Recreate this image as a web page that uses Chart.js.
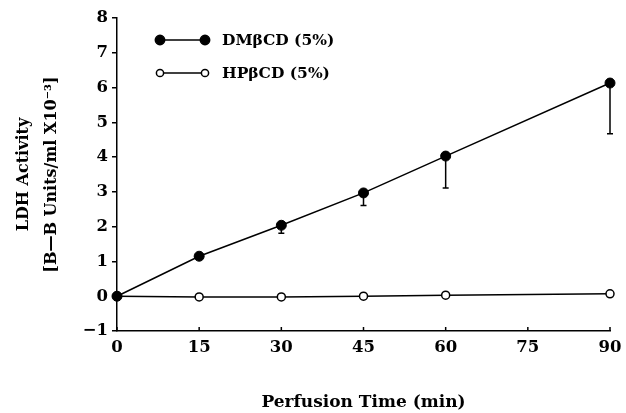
<!DOCTYPE html>
<html>
<head>
<meta charset="utf-8">
<script src="https://cdn.jsdelivr.net/npm/chart.js@4/dist/chart.umd.min.js"></script>
<style>
html,body{margin:0;padding:0;background:#fff;}
#wrap{width:626px;height:413px;position:relative;}
</style>
</head>
<body>
<div id="wrap"><canvas id="c" width="626" height="413"></canvas></div>
<script>
// ---- data ----
const times = [0, 15, 30, 45, 60, 90];
const dmValues = [0, 1.15, 2.04, 2.97, 4.03, 6.13];
const dmErrDown = [0, 0, 0.23, 0.36, 0.92, 1.46];
const hpValues = [0, -0.02, -0.02, 0.0, 0.03, 0.07];
const xTicks = [0, 15, 30, 45, 60, 75, 90];
const yTicks = [-1, 0, 1, 2, 3, 4, 5, 6, 7, 8];
const seriesLabels = ['DMβCD (5%)', 'HPβCD (5%)'];
const xTitle = 'Perfusion Time (min)';
const yTitle = ['LDH Activity', '[B\u2014B Units/ml X10\u207B\u00B3]'];

const FONT = '"DejaVu Serif", "Liberation Serif", serif';

const errorBars = {
  id: 'errorBars',
  afterDatasetsDraw(chart) {
    const ctx = chart.ctx, xs = chart.scales.x, ys = chart.scales.y;
    ctx.save();
    ctx.strokeStyle = '#000';
    ctx.lineWidth = 1.5;
    times.forEach((t, i) => {
      const e = dmErrDown[i];
      if (!e) return;
      const px = xs.getPixelForValue(t);
      const y1 = ys.getPixelForValue(dmValues[i]);
      const y2 = ys.getPixelForValue(dmValues[i] - e);
      ctx.beginPath();
      ctx.moveTo(px, y1); ctx.lineTo(px, y2);
      ctx.moveTo(px - 3, y2); ctx.lineTo(px + 3, y2);
      ctx.stroke();
    });
    ctx.restore();
  }
};

const innerXTicks = {
  id: 'innerXTicks',
  afterDraw(chart) {
    const ctx = chart.ctx, xs = chart.scales.x;
    const yb = chart.chartArea.bottom;
    ctx.save();
    ctx.strokeStyle = '#000';
    ctx.lineWidth = 1.5;
    xTicks.forEach(t => {
      const px = xs.getPixelForValue(t);
      ctx.beginPath();
      ctx.moveTo(px, yb); ctx.lineTo(px, yb - 4);
      ctx.stroke();
    });
    ctx.restore();
  }
};

const customLegend = {
  id: 'customLegend',
  afterDraw(chart) {
    const ctx = chart.ctx;
    const rows = [
      {y: 40, filled: true, label: chart.data.datasets[0].label},
      {y: 73, filled: false, label: chart.data.datasets[1].label}
    ];
    ctx.save();
    rows.forEach(r => {
      ctx.strokeStyle = '#000';
      ctx.lineWidth = 1.5;
      ctx.beginPath(); ctx.moveTo(160, r.y); ctx.lineTo(205, r.y); ctx.stroke();
      [160, 205].forEach(x => {
        ctx.beginPath();
        ctx.arc(x, r.y, r.filled ? 4.7 : 3.6, 0, Math.PI * 2);
        ctx.fillStyle = r.filled ? '#000' : '#fff';
        ctx.fill();
        ctx.stroke();
      });
      ctx.fillStyle = '#000';
      ctx.font = 'bold 15.5px ' + FONT;
      ctx.textBaseline = 'middle';
      ctx.textAlign = 'left';
      ctx.fillText(r.label, 222, r.y + 1);
    });
    ctx.restore();
  }
};

new Chart(document.getElementById('c'), {
  type: 'line',
  data: {
    datasets: [
      {
        label: seriesLabels[0],
        data: times.map((t, i) => ({x: t, y: dmValues[i]})),
        borderColor: '#000', borderWidth: 1.5,
        pointRadius: 5, pointBackgroundColor: '#000', pointBorderColor: '#000',
        pointBorderWidth: 1, tension: 0, fill: false, clip: false
      },
      {
        label: seriesLabels[1],
        data: times.map((t, i) => ({x: t, y: hpValues[i]})),
        borderColor: '#000', borderWidth: 1.5,
        pointRadius: 4, pointBackgroundColor: '#fff', pointBorderColor: '#000',
        pointBorderWidth: 1.5, tension: 0, fill: false, clip: false
      }
    ]
  },
  options: {
    responsive: false,
    animation: false,
    layout: {padding: {top: 18, right: 16, left: 0, bottom: 0}},
    plugins: {legend: {display: false}, tooltip: {enabled: false}},
    scales: {
      x: {
        type: 'linear', min: 0, max: 90,
        afterBuildTicks: s => { s.ticks = xTicks.map(v => ({value: v})); },
        afterFit: s => { s.height = 82; s.paddingLeft = 0; s.paddingRight = 0; },
        grid: {display: false, drawTicks: false},
        border: {display: true, color: '#000', width: 1.5},
        ticks: {color: '#000', font: {family: FONT, size: 16.5, weight: 'bold'}, padding: 7, maxRotation: 0},
        title: {display: true, text: xTitle, color: '#000', font: {family: FONT, size: 17, weight: 'bold'}, padding: {top: 28, bottom: 0}}
      },
      y: {
        type: 'linear', min: -1, max: 8,
        afterBuildTicks: s => { s.ticks = yTicks.map(v => ({value: v})); },
        afterFit: s => { s.width = 117; s.paddingTop = 0; s.paddingBottom = 0; },
        grid: {display: true, drawOnChartArea: false, drawTicks: true, tickLength: 5, color: '#000', lineWidth: 1.5},
        border: {display: true, color: '#000', width: 1.5},
        ticks: {color: '#000', font: {family: FONT, size: 16.5, weight: 'bold'}, padding: 4,
          callback: v => (v < 0 ? '\u2212' + Math.abs(v) : String(v))},
        title: {display: true, text: yTitle, color: '#000', font: {family: FONT, size: 16, weight: 'bold', lineHeight: 1.8}, padding: {top: 9, bottom: 0}}
      }
    }
  },
  plugins: [errorBars, innerXTicks, customLegend]
});
</script>
</body>
</html>
